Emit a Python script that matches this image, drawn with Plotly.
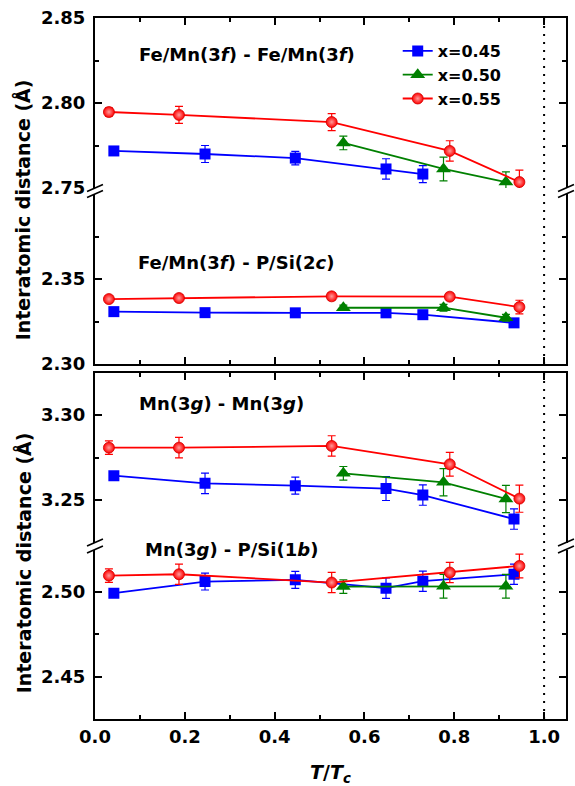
import plotly.graph_objects as go

# ---------------- data ----------------
# T/Tc values for each composition
x_045 = [0.042, 0.245, 0.446, 0.648, 0.730, 0.933]
x_050 = [0.553, 0.776, 0.915]
x_055 = [0.031, 0.187, 0.527, 0.790, 0.945]

# Panel A: Fe/Mn(3f) - Fe/Mn(3f)
ff_x045 = x_045[:5]
ff_045 = [2.7718, 2.7700, 2.7676, 2.7612, 2.7582]
ff_045_err = [0.0020, 0.0050, 0.0040, 0.0060, 0.0050]
ff_050 = [2.7765, 2.7612, 2.7535]
ff_050_err = [0.0040, 0.0070, 0.0060]
ff_055 = [2.7947, 2.7930, 2.7888, 2.7718, 2.7535]
ff_055_err = [0.0025, 0.0050, 0.0050, 0.0060, 0.0070]

# Panel B: Fe/Mn(3f) - P/Si(2c)
fp_045 = [2.3308, 2.3302, 2.3301, 2.3301, 2.3290, 2.3242]
fp_045_err = [0.0015, 0.0020, 0.0015, 0.0015, 0.0020, 0.0020]
fp_050 = [2.3331, 2.3331, 2.3272]
fp_050_err = [0.0015, 0.0020, 0.0020]
fp_055 = [2.3382, 2.3388, 2.3398, 2.3396, 2.3335]
fp_055_err = [0.0015, 0.0020, 0.0020, 0.0020, 0.0040]

# Panel C: Mn(3g) - Mn(3g)
mm_045 = [3.2643, 3.2598, 3.2584, 3.2567, 3.2529, 3.2388]
mm_045_err = [0.0020, 0.0060, 0.0050, 0.0070, 0.0060, 0.0060]
mm_050 = [3.2657, 3.2604, 3.2506]
mm_050_err = [0.0040, 0.0080, 0.0080]
mm_055 = [3.2808, 3.2808, 3.2818, 3.2710, 3.2508]
mm_055_err = [0.0040, 0.0060, 0.0060, 0.0070, 0.0080]

# Panel D: Mn(3g) - P/Si(1b)
mp_045 = [2.4992, 2.5061, 2.5071, 2.5022, 2.5063, 2.5104]
mp_045_err = [0.0020, 0.0050, 0.0050, 0.0060, 0.0060, 0.0060]
mp_050 = [2.5031, 2.5033, 2.5033]
mp_050_err = [0.0040, 0.0070, 0.0070]
mp_055 = [2.5096, 2.5104, 2.5055, 2.5114, 2.5153]
mp_055_err = [0.0040, 0.0060, 0.0060, 0.0060, 0.0070]

series_names = ["x=0.45", "x=0.50", "x=0.55"]
x_ticks = [0.0, 0.2, 0.4, 0.6, 0.8, 1.0]
x_minor = [0.1, 0.3, 0.5, 0.7, 0.9]

panel_labels = [
    "Fe/Mn(3<i>f</i>) - Fe/Mn(3<i>f</i>)",
    "Fe/Mn(3<i>f</i>) - P/Si(2<i>c</i>)",
    "Mn(3<i>g</i>) - Mn(3<i>g</i>)",
    "Mn(3<i>g</i>) - P/Si(1<i>b</i>)",
]
y_title = "Interatomic distance (Å)"
x_title = "<i>T</i>/<i>T</i><sub><i>c</i></sub>"

# ---------------- geometry helpers ----------------
W, H = 575, 786
L, R, T, B = 95, 568, 18, 719


def px_x(px):
    return (px - L) / (R - L)


def px_y(py):
    return (B - py) / (B - T)


BLUE, GREEN, RED = "#0000ff", "#008000", "#ff0000"
FONT = "DejaVu Sans, Liberation Sans, Arial, sans-serif"

fig = go.Figure()


def add_series(xa, ya, xs, ys, errs, color, symbol, name, legend):
    size = {"square": 11, "triangle-up": 13, "circle": 11}[symbol]
    marker = dict(symbol=symbol, size=size, color=color, line=dict(width=0))
    if symbol == "circle":
        marker["gradient"] = dict(type="radial", color="#ff9a9a")
        marker["line"] = dict(width=0.8, color="#d00000")
    fig.add_trace(go.Scatter(
        x=xs, y=ys, mode="lines+markers", name=name, showlegend=legend,
        xaxis=xa, yaxis=ya,
        line=dict(color=color, width=1.8),
        marker=marker,
        error_y=dict(type="data", array=errs, visible=True, color=color,
                     thickness=1.2, width=4),
    ))


panels = [
    ("x4", "y", [(ff_x045, ff_045, ff_045_err), (x_050, ff_050, ff_050_err), (x_055, ff_055, ff_055_err)], True),
    ("x3", "y2", [(x_045, fp_045, fp_045_err), (x_050, fp_050, fp_050_err), (x_055, fp_055, fp_055_err)], False),
    ("x2", "y3", [(x_045, mm_045, mm_045_err), (x_050, mm_050, mm_050_err), (x_055, mm_055, mm_055_err)], False),
    ("x", "y4", [(x_045, mp_045, mp_045_err), (x_050, mp_050, mp_050_err), (x_055, mp_055, mp_055_err)], False),
]
styles = [(BLUE, "square"), (GREEN, "triangle-up"), (RED, "circle")]
for xa, ya, data, leg in panels:
    for (xs, ys, es), (c, s), n in zip(data, styles, series_names):
        add_series(xa, ya, xs, ys, es, c, s, n, leg)

xmax = (R - L) / (546 - L)

common_x = dict(
    range=[0, xmax], showline=True, linewidth=2, linecolor="black",
    ticks="inside", ticklen=7, tickwidth=2, tickcolor="black",
    tickvals=x_ticks, ticktext=[f"{v:.1f}" for v in x_ticks],
    minor=dict(tickvals=x_minor, ticks="inside", ticklen=4, tickwidth=2, tickcolor="black"),
    showgrid=False, zeroline=False, domain=[0, 1],
    tickfont=dict(family=FONT, size=18, color="black", weight="bold"),
)


def yax(dom, rng, major, minor, anchor):
    return dict(
        domain=dom, range=rng, anchor=anchor, showline=True, linewidth=2,
        linecolor="black", mirror="ticks", ticks="inside", ticklen=7,
        tickwidth=2, tickcolor="black", tickvals=major,
        ticktext=[f"{v:.2f}" for v in major],
        minor=dict(tickvals=minor, ticks="inside", ticklen=4, tickwidth=2, tickcolor="black"),
        showgrid=False, zeroline=False, ticklabelstandoff=4,
        tickfont=dict(family=FONT, size=18, color="black", weight="bold"),
    )


fig.update_layout(
    width=W, height=H,
    margin=dict(l=L, r=W - R, t=T, b=H - B),
    paper_bgcolor="white", plot_bgcolor="white",
    font=dict(family=FONT, size=18, color="black", weight="bold"),
    xaxis=dict(common_x, anchor="y4", side="bottom", showticklabels=True),
    xaxis2=dict(common_x, anchor="y3", side="top", showticklabels=False, matches="x"),
    xaxis3=dict(common_x, anchor="y2", side="bottom", showticklabels=False, matches="x"),
    xaxis4=dict(common_x, anchor="y", side="top", showticklabels=False, matches="x"),
    yaxis=yax([px_y(188), 1.0], [2.75, 2.85], [2.75, 2.80, 2.85], [2.775, 2.825], "x4"),
    yaxis2=yax([px_y(364), px_y(194)], [2.30, 2.40], [2.30, 2.35], [2.325, 2.375], "x3"),
    yaxis3=yax([px_y(542.5), px_y(372.5)], [3.225, 3.325], [3.25, 3.30], [3.275], "x2"),
    yaxis4=yax([0, px_y(549.5)], [2.425, 2.525], [2.45, 2.50], [2.475], "x"),
    legend=dict(x=px_x(399), y=px_y(34), xanchor="left", yanchor="top",
                bgcolor="rgba(0,0,0,0)", font=dict(family=FONT, size=16, weight="bold"),
                tracegroupgap=0),
)

shapes = []
# dotted line at T/Tc = 1 in both panels
for y0, y1 in [(px_y(364), 1.0), (0.0, px_y(372.5))]:
    shapes.append(dict(type="line", xref="x", yref="paper", x0=1.0, x1=1.0, y0=y0, y1=y1,
                       line=dict(color="black", width=2, dash="2px,6px"), layer="above"))
# axis break marks
for yb_pair in [(188, 194), (542.5, 549.5)]:
    for ax in (L, R):
        for yb in yb_pair:
            shapes.append(dict(type="line", xref="paper", yref="paper",
                               x0=px_x(ax - 8), y0=px_y(yb + 3.5),
                               x1=px_x(ax + 8), y1=px_y(yb - 3.5),
                               line=dict(color="black", width=1.6), layer="above"))
fig.update_layout(shapes=shapes)

annotations = []
label_pos = [(137, 55), (136, 262), (137, 403), (143, 549)]
for txt, (lx, ly) in zip(panel_labels, label_pos):
    annotations.append(dict(text=txt, xref="paper", yref="paper", x=px_x(lx), y=px_y(ly),
                            xanchor="left", yanchor="middle", showarrow=False,
                            font=dict(family=FONT, size=18, color="black", weight="bold")))
for cy in (210, 563):
    annotations.append(dict(text=y_title, xref="paper", yref="paper", x=px_x(23), y=px_y(cy),
                            xanchor="center", yanchor="middle", textangle=-90, showarrow=False,
                            font=dict(family=FONT, size=19, color="black", weight="bold")))
annotations.append(dict(text=x_title, xref="paper", yref="paper", x=px_x(331), y=px_y(774),
                        xanchor="center", yanchor="middle", showarrow=False,
                        font=dict(family=FONT, size=19, color="black", weight="bold")))
fig.update_layout(annotations=annotations)

fig.write_html("out.html", config={"displayModeBar": False},
               post_script="document.body.style.margin='0px';")
